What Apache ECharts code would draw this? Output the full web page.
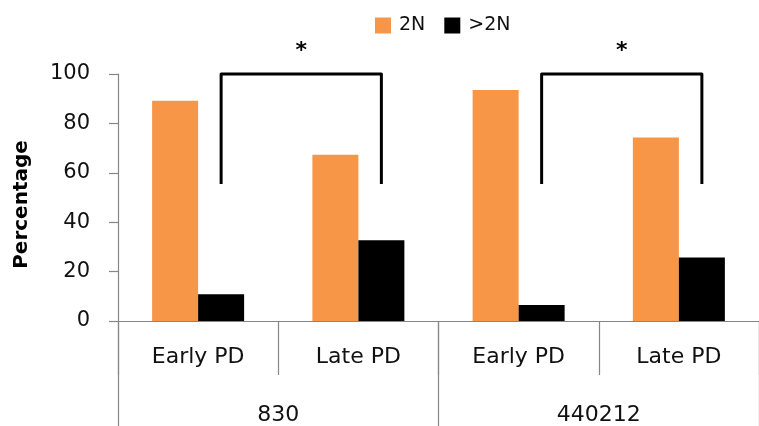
<!DOCTYPE html>
<html><head><meta charset="utf-8">
<script src="https://cdn.jsdelivr.net/npm/echarts@6/dist/echarts.min.js"></script>
<style>html,body{margin:0;padding:0;background:#fff;}#c{width:759px;height:426px;}</style>
</head><body><div id="c"></div>
<script>
var categories = ['Early PD', 'Late PD', 'Early PD', 'Late PD'];
var groups = ['830', '440212'];
var seriesNames = ['2N', '>2N'];
var values2N = [89.2, 67.3, 93.5, 74.3];
var valuesAbove2N = [10.8, 32.7, 6.5, 25.7];
var yTicks = [0, 20, 40, 60, 80, 100];
// significance brackets: [left category, right category, top value, leg bottom value, star value]
var brackets = [[0, 1, 100, 55.5, 110], [2, 3, 100, 55.5, 110]];

var font = '"DejaVu Sans", Verdana, sans-serif';
var chart = echarts.init(document.getElementById('c'));
chart.setOption({
  animation: false,
  textStyle: { fontFamily: font },
  legend: {
    data: seriesNames, left: 370, top: 11, itemWidth: 16, itemHeight: 16, itemGap: 19,
    icon: 'rect', textStyle: { fontSize: 19, color: '#111', fontFamily: font, padding: [0, 0, 0, 3] }
  },
  grid: { left: 118, right: -3, top: 74, bottom: 105, containLabel: false },
  xAxis: [{
    type: 'category', data: categories, position: 'bottom',
    axisLine: { lineStyle: { color: '#868686', width: 1.2 } },
    axisTick: { show: true, interval: 0, length: 54, lineStyle: { color: '#868686', width: 1.2 } },
    axisLabel: { interval: 0, margin: 25, fontSize: 22, color: '#111', fontFamily: font }
  }, {
    type: 'category', data: groups, position: 'bottom',
    axisLine: { show: false },
    axisTick: { show: true, interval: 0, length: 110, lineStyle: { color: '#868686', width: 1.2 } },
    axisLabel: { interval: 0, margin: 83, fontSize: 22, color: '#111', fontFamily: font }
  }],
  yAxis: {
    type: 'value', min: 0, max: 100, interval: 20,
    name: 'Percentage', nameLocation: 'middle', nameGap: 86, nameRotate: 90,
    nameTextStyle: { fontSize: 20, fontWeight: 'bold', color: '#000', fontFamily: font, padding: [0, 14, 0, 0] },
    axisLine: { show: true, lineStyle: { color: '#868686', width: 1.2 } },
    axisTick: { show: true, length: 9, inside: false, lineStyle: { color: '#868686', width: 1.2 } },
    splitLine: { show: false },
    axisLabel: { margin: 28, fontSize: 21, color: '#111', fontFamily: font,
      formatter: function (v) { return yTicks.indexOf(v) >= 0 ? String(v) : ''; } }
  },
  series: [{
    name: seriesNames[0], type: 'bar', data: values2N, barWidth: 46, barGap: '0%',
    itemStyle: { color: '#F79646' }
  }, {
    name: seriesNames[1], type: 'bar', data: valuesAbove2N, barWidth: 46, barGap: '0%',
    itemStyle: { color: '#000000' }
  }, {
    type: 'custom', silent: true, clip: false, legendHoverLink: false,
    data: brackets,
    renderItem: function (params, api) {
      var l = api.value(0), r = api.value(1), top = api.value(2), bot = api.value(3), star = api.value(4);
      var off = 23;
      var pTL = api.coord([l, top]), pBL = api.coord([l, bot]);
      var pTR = api.coord([r, top]), pBR = api.coord([r, bot]);
      var pS = api.coord([(l + r) / 2, star]);
      var xl = pTL[0] + off, xr = pTR[0] + off;
      return {
        type: 'group',
        children: [{
          type: 'polyline',
          shape: { points: [[xl, pBL[1]], [xl, pTL[1]], [xr, pTR[1]], [xr, pBR[1]]] },
          style: { stroke: '#000', lineWidth: 3, fill: null, lineJoin: 'round' }
        }, {
          type: 'text',
          style: { text: '*', x: (xl + xr) / 2, y: pS[1] + 2, align: 'center', verticalAlign: 'middle',
            fontSize: 22, fontWeight: 'bold', fill: '#000', fontFamily: font }
        }]
      };
    }
  }]
});
</script></body></html>
